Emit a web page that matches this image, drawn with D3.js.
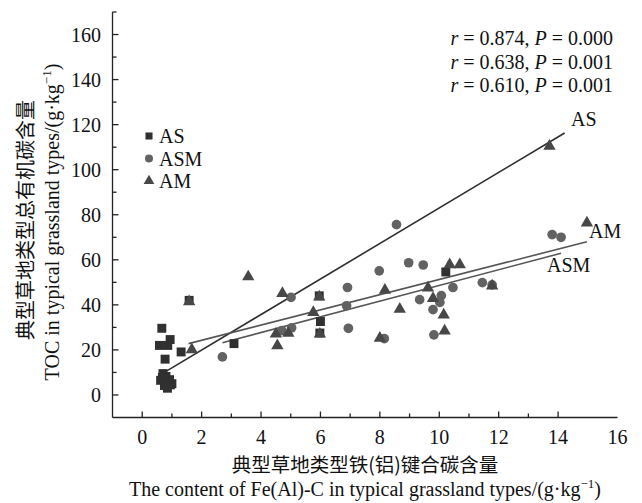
<!DOCTYPE html>
<html>
<head>
<meta charset="utf-8">
<script src="https://d3js.org/d3.v7.min.js"></script>
<style>
  body { margin: 0; background: #fff; }
  text { font-family: "Liberation Serif", "Times New Roman", serif; fill: #111; }
  .cn { font-family: "Noto Sans CJK SC", sans-serif; }
</style>
</head>
<body>
<div id="chart"></div>
<script>
// points: [Fe(Al)-C, TOC]
var asPoints = [[0.66,29.6],[0.94,24.6],[0.58,22],[0.86,22],[0.77,15.9],[1.31,19.1],[3.09,22.8],
  [6.0,32.6],[10.22,54.6],[1.58,42],[5.96,44],[5.98,27.5],
  [0.7,9.5],[0.8,8.2],[0.62,6.5],[0.92,6.8],[0.75,4.2],[1.0,5],[0.85,3],[0.68,7.8],[0.95,4.5],[0.8,5.5]];
var asmPoints = [[2.70,16.9],[5.01,43.3],[4.70,28.6],[5.03,29.8],[6.91,47.7],[6.88,39.6],[6.94,29.6],
  [8.56,75.6],[8.97,58.7],[9.46,57.7],[7.98,55.1],[10.46,47.7],[11.45,49.9],[11.78,48.9],[9.34,42.3],
  [10.07,44.1],[10.02,41.1],[9.79,37.9],[8.15,25.0],[9.82,26.7],[13.8,71.2],[14.1,70.0]];
var amPoints = [[1.67,20.6],[1.58,41.9],[3.57,52.9],[4.72,45.5],[5.96,44],[5.76,37.1],[5.98,27.5],
  [4.5,27.5],[4.92,27.9],[4.55,22.3],[8.17,47.0],[9.62,48.0],[10.35,58.3],[10.69,58.3],[11.78,48.9],
  [9.79,43.3],[8.67,38.5],[10.15,36.0],[8.0,25.7],[10.18,28.9],[13.71,110.9],[14.97,76.8]];

// fitted lines, end points
var lineAS = [[0.83,10.7],[14.22,116.3]];
var lineAM = [[1.56,22.8],[14.97,68.0]];
var lineASM = [[2.70,23.2],[14.1,62.9]];

var stats = ["0.874|0.000", "0.638|0.001", "0.610|0.001"];
var xTicks = d3.range(0, 15);
var xLabels = d3.range(0, 17, 2);
var yTicks = d3.range(0, 171, 10);
var yLabels = d3.range(0, 161, 20);

var w = 642, h = 503;
var svg = d3.select("#chart").append("svg").attr("width", w).attr("height", h);

var x = d3.scaleLinear().domain([-1, 16]).range([112.5, 617.5]);
var y = d3.scaleLinear().domain([-10, 170]).range([417.5, 12]);

var ax = svg.append("g").attr("stroke", "#222").attr("stroke-width", 1.3);
ax.append("line").attr("x1", x(-1)).attr("x2", x(16)).attr("y1", y(-10)).attr("y2", y(-10));
ax.append("line").attr("x1", x(-1)).attr("x2", x(-1)).attr("y1", y(-10)).attr("y2", y(170));
ax.selectAll(".xt").data(xTicks).enter().append("line")
  .attr("x1", d => x(d)).attr("x2", d => x(d))
  .attr("y1", y(-10)).attr("y2", d => y(-10) - (d % 2 == 0 ? 6 : 4));
ax.selectAll(".yt").data(yTicks).enter().append("line")
  .attr("x1", x(-1)).attr("x2", d => x(-1) + (d % 20 == 0 ? 6 : 4))
  .attr("y1", d => y(d)).attr("y2", d => y(d));

svg.selectAll(".xl").data(xLabels).enter().append("text")
  .attr("x", d => x(d)).attr("y", 444).attr("text-anchor", "middle")
  .style("font-size", "20px").text(d => d);
svg.selectAll(".yl").data(yLabels).enter().append("text")
  .attr("x", 101).attr("y", d => y(d) + 7).attr("text-anchor", "end")
  .style("font-size", "20px").text(d => d);

// fitted lines
var lines = [[lineAS, "#2e2e2e"], [lineAM, "#555"], [lineASM, "#555"]];
svg.selectAll(".fit").data(lines).enter().append("line")
  .attr("x1", d => x(d[0][0][0])).attr("y1", d => y(d[0][0][1]))
  .attr("x2", d => x(d[0][1][0])).attr("y2", d => y(d[0][1][1]))
  .attr("stroke", d => d[1]).attr("stroke-width", 1.6);

// markers
var sq = d3.symbol().type(d3.symbolSquare).size(80);
var ci = d3.symbol().type(d3.symbolCircle).size(74);
var tr = d3.symbol().type(d3.symbolTriangle).size(66);
svg.selectAll(".as").data(asPoints).enter().append("path")
  .attr("d", sq).attr("fill", "#303030")
  .attr("transform", d => "translate(" + x(d[0]) + "," + y(d[1]) + ")");
svg.selectAll(".asm").data(asmPoints).enter().append("path")
  .attr("d", ci).attr("fill", "#626262")
  .attr("transform", d => "translate(" + x(d[0]) + "," + y(d[1]) + ")");
svg.selectAll(".am").data(amPoints).enter().append("path")
  .attr("d", tr).attr("fill", "#474747")
  .attr("transform", d => "translate(" + x(d[0]) + "," + (y(d[1]) + 1) + ")");

// legend
var legend = [["AS", d3.symbolSquare, "#303030"], ["ASM", d3.symbolCircle, "#626262"], ["AM", d3.symbolTriangle, "#474747"]];
var lg = svg.selectAll(".lg").data(legend).enter().append("g")
  .attr("transform", (d, i) => "translate(149," + (136 + i * 22.5) + ")");
lg.append("path").attr("d", d => d3.symbol().type(d[1]).size(50)())
  .attr("fill", d => d[2]);
lg.append("text").attr("x", 10).attr("y", 7).style("font-size", "20px").text(d => d[0]);

// line labels
svg.append("text").attr("x", 571).attr("y", 126).style("font-size", "20px").text("AS");
svg.append("text").attr("x", 589).attr("y", 238).style("font-size", "20px").text("AM");
svg.append("text").attr("x", 547).attr("y", 272).style("font-size", "20px").text("ASM");

// statistics
stats.forEach(function (s, i) {
  var p = s.split("|");
  var t = svg.append("text").attr("x", 613).attr("y", 45 + i * 23.5)
    .attr("text-anchor", "end").style("font-size", "20px");
  t.append("tspan").style("font-style", "italic").text("r");
  t.append("tspan").text(" = " + p[0] + ", ");
  t.append("tspan").style("font-style", "italic").text("P");
  t.append("tspan").text(" = " + p[1]);
});

// axis titles
svg.append("text").attr("class", "cn").attr("x", 365).attr("y", 472)
  .attr("text-anchor", "middle").style("font-size", "19.5px").text("典型草地类型铁(铝)键合碳含量");
var xt = svg.append("text").attr("x", 365).attr("y", 496).attr("text-anchor", "middle").style("font-size", "20px");
xt.append("tspan").text("The content of Fe(Al)-C in typical grassland types/(g·kg");
xt.append("tspan").attr("dy", -8).style("font-size", "13px").text("−1");
xt.append("tspan").attr("dy", 8).text(")");

svg.append("text").attr("class", "cn")
  .attr("transform", "translate(33,220) rotate(-90)")
  .attr("text-anchor", "middle").style("font-size", "20px").text("典型草地类型总有机碳含量");
var yt = svg.append("text").attr("transform", "translate(59,222) rotate(-90)")
  .attr("text-anchor", "middle").style("font-size", "20px");
yt.append("tspan").text("TOC in typical grassland types/(g·kg");
yt.append("tspan").attr("dy", -8).style("font-size", "13px").text("−1");
yt.append("tspan").attr("dy", 8).text(")");
</script>
</body>
</html>
